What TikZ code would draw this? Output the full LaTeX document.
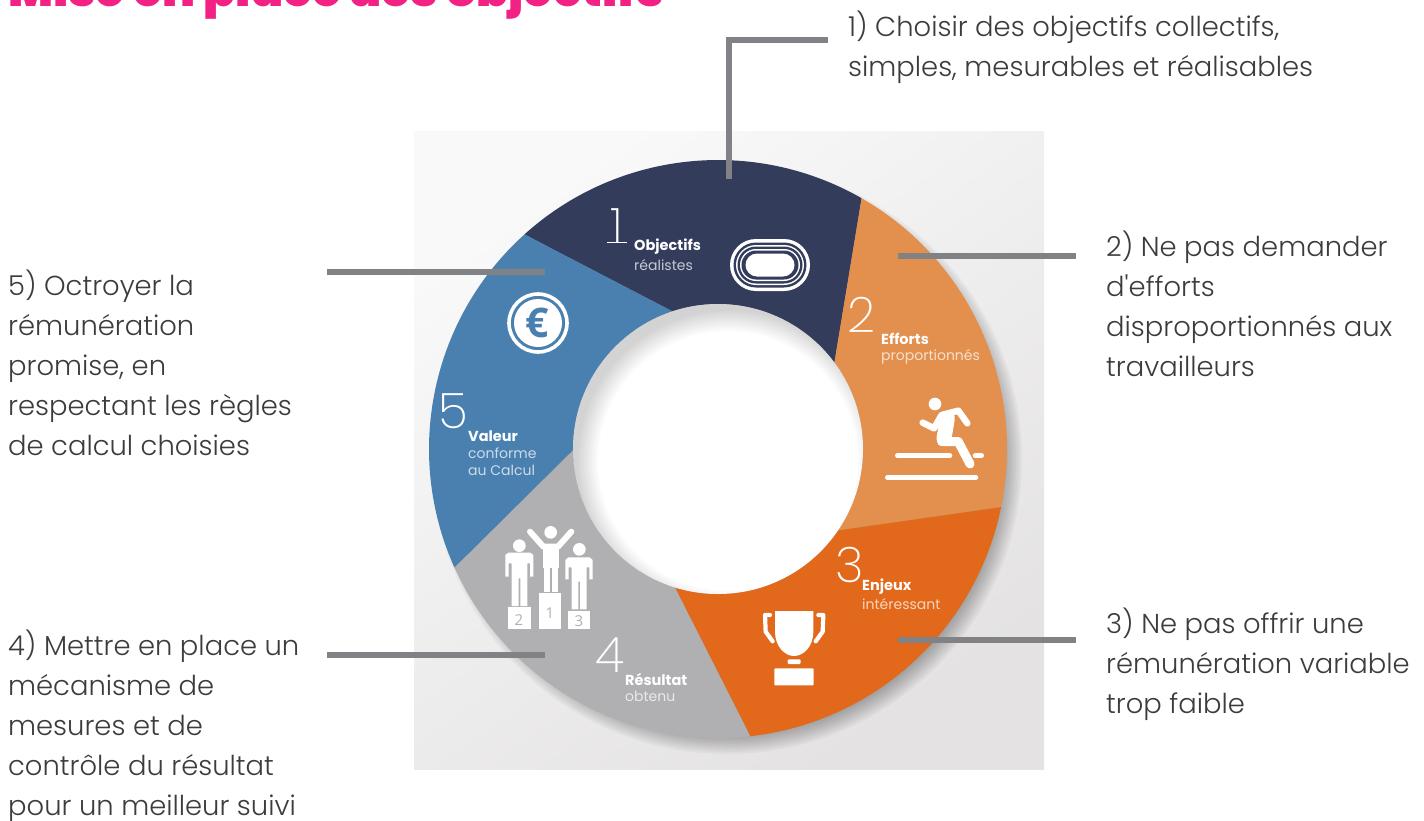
\documentclass[tikz,border=0pt]{standalone}
\usepackage{fontspec}
\usetikzlibrary{calc}
\setmainfont{Poppins}[UprightFont=* Light,BoldFont=* Medium]
\newfontfamily\titlefont{Poppins}[UprightFont=* Black]
\newfontfamily\numfont{Poppins}[UprightFont=* ExtraLight]
\newfontfamily\labelbold{Poppins}[UprightFont=* Bold]
\newfontfamily\labelreg{Poppins}[UprightFont=*]
\newfontfamily\opensans{Open Sans}
\definecolor{navy}{HTML}{343C5C}
\definecolor{lightorange}{HTML}{E3904E}
\definecolor{deeporange}{HTML}{E2691B}
\definecolor{ringgray}{HTML}{B0B0B2}
\definecolor{ringblue}{HTML}{4A80B0}
\definecolor{titlepink}{HTML}{F32183}
\definecolor{bodytext}{HTML}{3C3C3C}
\definecolor{connector}{HTML}{808285}
\definecolor{panellight}{HTML}{F9F9F9}
\definecolor{paneldark}{HTML}{E4E2E2}
\tikzset{
  x=1pt,y=-1pt,
  caption/.style={anchor=north west,align=left,inner sep=0pt,text=bodytext,font=\fontsize{27.4}{40}\selectfont},
  leader/.style={draw=connector,line width=5.5pt},
  bignum/.style={text=white,inner sep=0pt,font=\numfont\fontsize{49}{49}\selectfont},
  segname/.style={anchor=west,inner sep=0pt,text=white,font=\labelbold\fontsize{14.5}{14.5}\selectfont},
  segsub/.style={anchor=west,align=left,inner sep=0pt,text=white,text opacity=.72,font=\labelreg\fontsize{14}{17}\selectfont},
  icon/.style={white,line width=#1,line cap=round,line join=round},
}
\newcommand{\ringseg}[5]{%
  \fill[#1] (#2:289) arc[start angle=#2,end angle=#3,radius=289] -- (#5:145)
     arc[start angle=#5,end angle=#4,radius=145] -- cycle;}
\newcommand{\stad}[4]{\fill[#1,rounded corners=#4pt] (-#2/2,-#3/2) rectangle (#2/2,#3/2);}
\begin{document}
\begin{tikzpicture}
\useasboundingbox (0,0) rectangle (1424,820);
\clip (0,0) rectangle (1424,820);
\fill[white] (0,0) rectangle (1424,820);
% panel
\shade[top color=panellight,bottom color=paneldark,shading angle=35] (414,131) rectangle (1044,769);
\begin{scope}
  \clip (414,131) rectangle (1044,769);
  \foreach \k in {0,...,11}{
    \fill[black,opacity=.03] ({718+9},{449+10}) circle ({295-2*\k});
  }
\end{scope}
% ring
\begin{scope}[shift={(718,449)}]
  \ringseg{navy}{-132.05}{-60.2}{-108.3}{-36.6}
  \ringseg{lightorange}{-60.2}{11.6}{-36.6}{34.2}
  \ringseg{deeporange}{11.6}{83.6}{34.2}{107.3}
  \ringseg{ringgray}{83.6}{155.8}{107.3}{179.6}
  \ringseg{ringblue}{155.8}{227.95}{179.6}{251.7}
  \fill[white] (0,0) circle (145);
  \begin{scope}
    \clip (0,0) circle (145);
    \foreach \k in {0,...,10}{
      \fill[black,opacity=.014,even odd rule] (-160,-160) rectangle (160,160) (10,12) circle ({150-2*\k});
    }
  \end{scope}
\end{scope}
% segment numbers and labels
\node[bignum] (n1) at (617,226) {1};
\draw[white,line width=1.8pt] (607,242.5) -- (627,242.5);
\node[segname] (t1) at (634,247) {Objectifs};
\node[segsub] (s1) at (634,265) {réalistes};
\node[bignum] (n2) at (861,315) {2};
\node[segname] (t2) at (881,339) {Efforts};
\node[segsub] (s2) at (881,357) {proportionnés};
\node[bignum] (n3) at (850,565) {3};
\node[segname] (t3) at (862,587) {Enjeux};
\node[segsub] (s3) at (862,604) {intéressant};
\node[bignum] (n4) at (610,655) {4};
\node[segname] (t4) at (625,679) {Résultat};
\node[segsub] (s4) at (625,696) {obtenu};
\node[bignum] (n5) at (453,411) {5};
\node[segname] (t5) at (468,436) {Valeur};
\node[segsub] (s5) at (468,462) {conforme\\au Calcul};
% track icon
\begin{scope}[shift={(770,265)}]
  \stad{white}{80}{52}{26}
  \stad{navy}{73}{45}{22.5}
  \stad{white}{68}{40}{20}
  \stad{navy}{65}{37}{18.5}
  \stad{white}{60}{32}{16}
  \stad{navy}{57}{29}{14.5}
  \stad{white}{49}{23}{11.5}
\end{scope}
% euro icon
\draw[white,line width=3.6pt] (538,323) circle (29);
\fill[white] (538,323) circle (24);
\node[inner sep=0pt,text=ringblue,font=\opensans\bfseries\fontsize{41}{41}\selectfont] (euro) at (537.5,322.5) {€};
% runner icon
\begin{scope}[shift={(720,170)},scale=1/3]
  \fill[white] (645,702) circle (19);
  \draw[icon=6.5pt] (608,758) -- (642,775) -- (665,735) -- (715,722) -- (742,760);
  \draw[icon=15pt] (682,745) -- (672,805);
  \draw[icon=9pt] (665,815) -- (715,815) -- (750,882);
  \draw[icon=4.6pt] (532,857) -- (690,857);
  \draw[icon=4.6pt] (765,857) -- (785,857);
  \draw[icon=4.6pt] (502,922) -- (768,922);
\end{scope}
% podium icon
\begin{scope}[shift={(440,480)},scale=1/3]
  \fill[white] (205,380) rectangle (272,448);
  \fill[white] (296,340) rectangle (363,448);
  \fill[white] (383,392) rectangle (450,448);
  \fill[white] (332,157) circle (19);
  \draw[icon=6pt] (270,155) -- (310,200) -- (354,200) -- (394,155);
  \fill[white] (308,195) rectangle (356,265);
  \fill[white] (311,260) rectangle (329,335);
  \fill[white] (335,260) rectangle (353,335);
  \fill[white] (238,197) circle (19);
  \fill[white] (196,225) -- (205,218) -- (271,218) -- (280,225) -- (280,290) -- (270,290) -- (270,250) -- (262,250) -- (262,378) -- (241,378) -- (241,295) -- (236,295) -- (236,378) -- (215,378) -- (215,250) -- (206,250) -- (206,290) -- (196,290) -- cycle;
  \fill[white] (418,208) circle (19);
  \fill[white] (376,240) -- (385,232) -- (449,232) -- (458,240) -- (458,298) -- (448,298) -- (448,262) -- (440,262) -- (440,388) -- (420,388) -- (420,305) -- (415,305) -- (415,388) -- (395,388) -- (395,262) -- (386,262) -- (386,298) -- (376,298) -- cycle;
\end{scope}
\node[inner sep=0pt,text=ringgray,font=\opensans\fontsize{15}{15}\selectfont] (p2) at (519,620) {2};
\node[inner sep=0pt,text=ringgray,font=\opensans\fontsize{15}{15}\selectfont] (p1) at (550,613) {1};
\node[inner sep=0pt,text=ringgray,font=\opensans\fontsize{15}{15}\selectfont] (p3) at (579,621) {3};
% trophy icon
\begin{scope}[shift={(720,500)},scale=1/3]
  \fill[white] (165,333) -- (280,333) -- (280,395) .. controls (280,440) and (250,468) .. (222,468) .. controls (195,468) and (165,440) .. (165,395) -- cycle;
  \fill[white,rounded corners=1pt] (203,478) rectangle (242,492);
  \fill[white,rounded corners=1pt] (163,505) rectangle (281,556);
  \draw[icon=4.2pt] (150,345) -- (135,345) -- (137,395) -- (158,424);
  \draw[icon=4.2pt] (295,345) -- (310,345) -- (308,395) -- (287,424);
\end{scope}
% connectors
\coordinate (c1a) at (828,40);
\coordinate (c1b) at (729,40);
\coordinate (c1c) at (729,179);
\coordinate (c2a) at (1076,256);
\coordinate (c2b) at (898,256);
\coordinate (c3a) at (1076,640);
\coordinate (c3b) at (898,640);
\coordinate (c4a) at (327,655);
\coordinate (c4b) at (545,655);
\coordinate (c5a) at (327,272);
\coordinate (c5b) at (545,272);
\draw[leader] (c1a) -- (c1b) -- (c1c);
\draw[leader] (c2a) -- (c2b);
\draw[leader] (c3a) -- (c3b);
\draw[leader] (c4a) -- (c4b);
\draw[leader] (c5a) -- (c5b);
% captions
\node[caption] (cap1) at (848,11) {1) Choisir des objectifs collectifs,\\simples, mesurables et réalisables};
\node[caption] (cap2) at (1106,231) {2) Ne pas demander\\d\textquotesingle efforts\\disproportionnés aux\\travailleurs};
\node[caption] (cap3) at (1106,608) {3) Ne pas offrir une\\rémunération variable\\trop faible};
\node[caption] (cap4) at (8,630) {4) Mettre en place un\\mécanisme de\\mesures et de\\contrôle du résultat\\pour un meilleur suivi};
\node[caption] (cap5) at (8,270) {5) Octroyer la\\rémunération\\promise, en\\respectant les règles\\de calcul choisies};
% title
\node[anchor=base west,inner sep=0pt,text=titlepink,font=\titlefont\fontsize{47.4}{47.4}\selectfont] (title) at (8,6) {Mise en place des objectifs};
\end{tikzpicture}
\end{document}
